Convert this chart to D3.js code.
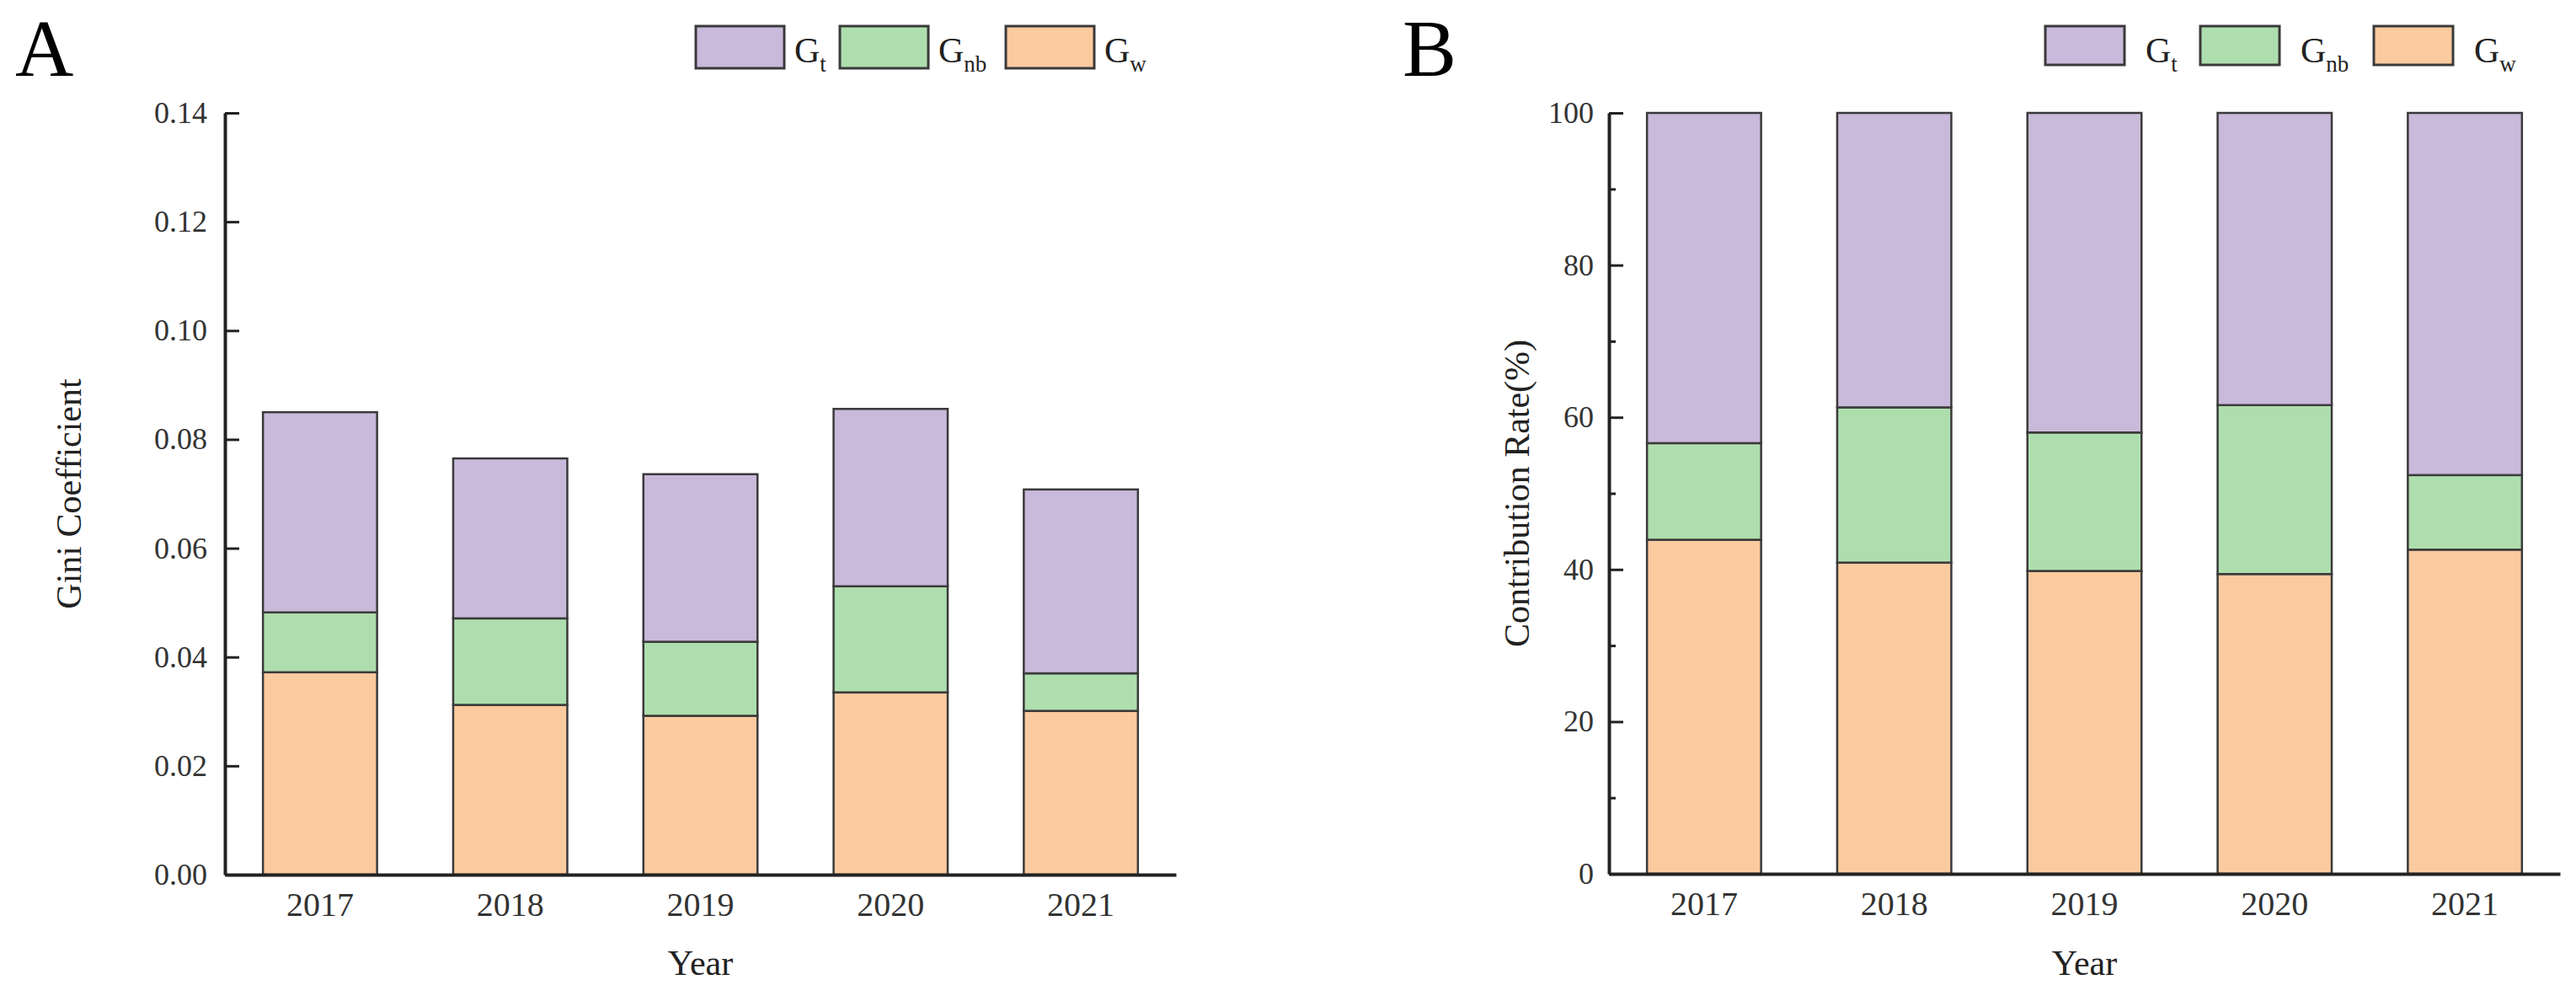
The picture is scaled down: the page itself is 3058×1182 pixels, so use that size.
<!DOCTYPE html>
<html>
<head>
<meta charset="utf-8">
<script src="https://cdn.jsdelivr.net/npm/d3@7"></script>
<style>
    body { margin: 0; background: #fff; }
    svg text { font-family: 'Liberation Serif', 'DejaVu Serif', serif; fill: #222; }
</style>
</head>
<body>
<svg id="chart" width="3058" height="1182"></svg>
<script>
const years = ['2017', '2018', '2019', '2020', '2021'];

// panel A: gini coefficient parts
const giniW  = [0.0372, 0.0312, 0.0292, 0.0335, 0.0301];
const giniNb = [0.0110, 0.0159, 0.0136, 0.0195, 0.0069];
const giniT  = [0.0368, 0.0294, 0.0308, 0.0326, 0.0338];
const giniTicks = [0, 0.02, 0.04, 0.06, 0.08, 0.10, 0.12, 0.14];

// panel B: contribution rate (%)
const rateW  = [43.9, 40.9, 39.8, 39.4, 42.6];
const rateNb = [12.7, 20.4, 18.2, 22.2, 9.8];
const rateT  = [43.4, 38.7, 42.0, 38.4, 47.6];
const rateTicks = [0, 20, 40, 60, 80, 100];
const rateMinor = [10, 30, 50, 70, 90];

const seriesKeys = ['Gw', 'Gnb', 'Gt'];     // stack order, bottom first
const legendKeys = ['Gt', 'Gnb', 'Gw'];
const subText = {Gt: 't', Gnb: 'nb', Gw: 'w'};
const colors = {Gt: '#c9b9da', Gnb: '#afdeae', Gw: '#fbca9f'};

const svg = d3.select('#chart');
svg.append('rect').attr('width', 3058).attr('height', 1182).attr('fill', '#fff');

function drawPanel(p) {
    const rows = years.map((yr, i) => ({year: yr, Gw: p.w[i], Gnb: p.nb[i], Gt: p.t[i]}));
    const stacked = d3.stack().keys(seriesKeys)(rows);

    const x = d3.scaleBand().domain(years).range([p.left, p.right])
        .paddingInner(0.4).paddingOuter(0.2);
    const y = d3.scaleLinear().domain(p.domain).range([p.bottom, p.top]);

    const g = svg.append('g');

    stacked.forEach(function(layer) {
        g.append('g').selectAll('rect')
            .data(layer)
            .join('rect')
            .attr('x', d => x(d.data.year))
            .attr('y', d => y(d[1]))
            .attr('width', x.bandwidth())
            .attr('height', d => y(d[0]) - y(d[1]))
            .style('fill', colors[layer.key])
            .style('stroke', '#3a3a3a')
            .style('stroke-width', 2.5);
    });

    // y axis, ticks pointing inward
    const yAxis = g.append('g')
        .attr('transform', `translate(${p.left},0)`)
        .call(d3.axisLeft(y).tickValues(p.ticks).tickFormat(p.format)
            .tickSizeInner(-17).tickSizeOuter(0).tickPadding(p.labelGap));
    yAxis.select('.domain').style('stroke', '#222').style('stroke-width', 4);
    yAxis.selectAll('.tick line').style('stroke', '#222').style('stroke-width', 3);
    yAxis.selectAll('.tick text').style('font-size', '36px')
        .style('font-family', "'Liberation Serif', serif").style('fill', '#333');

    if (p.minor) {
        g.append('g')
            .attr('transform', `translate(${p.left},0)`)
            .call(d3.axisLeft(y).tickValues(p.minor).tickFormat('').tickSizeInner(-8).tickSizeOuter(0))
            .call(s => s.select('.domain').remove())
            .selectAll('.tick line').style('stroke', '#222').style('stroke-width', 3);
    }

    const xAxis = g.append('g')
        .attr('transform', `translate(0,${p.bottom})`)
        .call(d3.axisBottom(x).tickSize(0).tickPadding(21));
    xAxis.select('.domain').style('stroke', '#222').style('stroke-width', 4);
    xAxis.selectAll('.tick text').style('font-size', '40px')
        .style('font-family', "'Liberation Serif', serif").style('fill', '#333');

    g.append('text')
        .text('Year')
        .attr('x', (p.left + p.right) / 2)
        .attr('y', 1157)
        .attr('text-anchor', 'middle')
        .style('font-size', '42px');

    g.append('text')
        .text(p.yTitle)
        .attr('transform', `translate(${p.titleX},${(p.top + p.bottom) / 2}) rotate(-90)`)
        .attr('text-anchor', 'middle')
        .style('font-size', '42px');

    g.append('text')
        .text(p.letter)
        .attr('x', p.letterX)
        .attr('y', 90)
        .style('font-size', '96px')
        .style('fill', '#000');

    // legend
    legendKeys.forEach(function(key, i) {
        const bx = p.legendX[i];
        g.append('rect')
            .attr('x', bx).attr('y', 31)
            .attr('width', p.legendW).attr('height', p.legendH)
            .style('fill', colors[key])
            .style('stroke', '#3a3a3a')
            .style('stroke-width', 3);
        const t = g.append('text')
            .attr('x', bx + p.legendW + p.legendGap)
            .attr('y', 74)
            .style('font-size', '42px');
        t.append('tspan').text('G');
        t.append('tspan').text(subText[key])
            .attr('dy', 11)
            .style('font-size', '27px');
    });
}

drawPanel({
    w: giniW, nb: giniNb, t: giniT,
    domain: [0, 0.14], ticks: giniTicks, minor: null, format: d3.format('.2f'),
    left: 267, right: 1396, top: 134, bottom: 1038, labelGap: 21,
    yTitle: 'Gini Coefficient', titleX: 96,
    letter: 'A', letterX: 18,
    legendX: [826, 997, 1194], legendW: 105, legendH: 50, legendGap: 12
});

drawPanel({
    w: rateW, nb: rateNb, t: rateT,
    domain: [0, 100], ticks: rateTicks, minor: rateMinor, format: d3.format('d'),
    left: 1910, right: 3039, top: 134, bottom: 1037, labelGap: 18,
    yTitle: 'Contribution Rate(%)', titleX: 1815,
    letter: 'B', letterX: 1665,
    legendX: [2428, 2612, 2818], legendW: 94, legendH: 46, legendGap: 25
});
</script>
</body>
</html>
